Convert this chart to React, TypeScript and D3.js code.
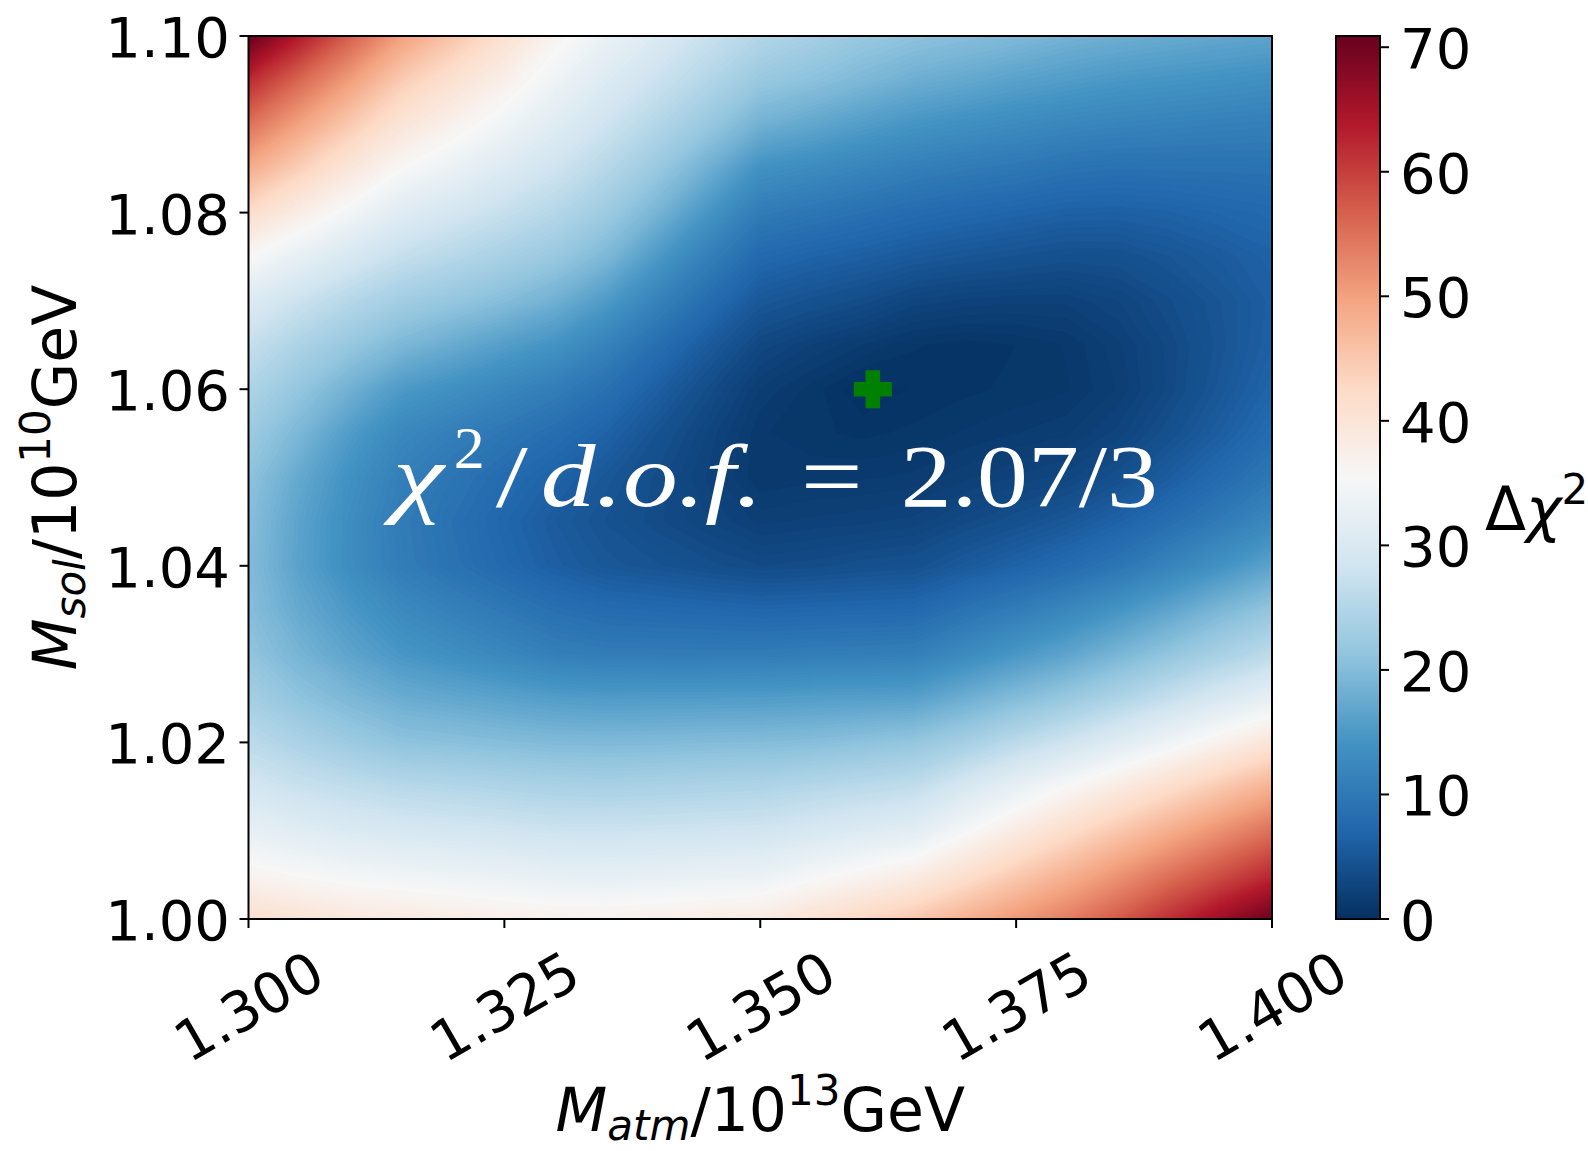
import { useMemo } from "react";
import * as d3 from "d3";

// M_atm / 10^13 GeV (columns)
const mAtm = [
  1.3, 1.305, 1.31, 1.315, 1.32, 1.325, 1.33, 1.335, 1.34, 1.345, 1.35,
  1.355, 1.36, 1.365, 1.37, 1.375, 1.38, 1.385, 1.39, 1.395, 1.4,
];
// M_sol / 10^10 GeV (rows, top of the plot first)
const mSol = [
  1.1, 1.095, 1.09, 1.085, 1.08, 1.075, 1.07, 1.065, 1.06, 1.055, 1.05,
  1.045, 1.04, 1.035, 1.03, 1.025, 1.02, 1.015, 1.01, 1.005, 1.0,
];
// delta chi^2: one row per mSol, one entry per mAtm
const dchi2 = [
  [70.9, 63.6, 56.6, 50, 45.5, 41.0, 36.5, 33.0, 30.3, 27.4, 25, 23.5, 22, 21, 20.3, 19.6, 18.6, 18.0, 17.5, 17.0, 16.6],
  [62, 55.9, 50.2, 44.5, 40.9, 37.4, 33.8, 30.6, 27.7, 24.9, 22, 20.8, 19.4, 18.0, 17.2, 16.2, 15.5, 14.8, 14.4, 14.0, 13.5],
  [55, 49.7, 44.7, 40, 37.0, 34.1, 31.1, 28.1, 25.0, 21.9, 18.4, 17.0, 15.6, 14.4, 13.6, 12.9, 12.2, 11.8, 11.5, 11.2, 11.0],
  [48.5, 43.9, 39.5, 35.5, 33.1, 30.6, 28.2, 25.3, 22.0, 18.1, 13.9, 12.9, 11.9, 11.0, 10.3, 9.8, 9.1, 8.8, 8.9, 8.9, 9.0],
  [42, 38, 34.4, 31, 29.1, 27.1, 25.2, 22.5, 18.8, 14.4, 10.4, 9.6, 8.8, 8.0, 7.4, 6.9, 6.4, 6.3, 6.6, 7.1, 7.5],
  [35.5, 32.4, 29.5, 27, 25.3, 23.7, 22.0, 19.3, 15.0, 11.0, 7.5, 6.7, 6.1, 5.4, 4.9, 4.5, 4.1, 4.2, 4.9, 5.7, 6.5],
  [30.5, 27.7, 25.2, 23, 21.6, 20.1, 18.2, 15.2, 11.5, 8.1, 5.2, 4.4, 3.7, 2.7, 2.35, 2.2, 2.2, 2.8, 3.8, 4.9, 6.1],
  [27, 24.2, 21.7, 19.3, 17.5, 15.7, 14.1, 11.5, 8.4, 5.5, 3.1, 2.1, 1.4, 0.75, 0.5, 0.7, 1.1, 2.0, 3.3, 4.75, 6.3],
  [24.5, 21.5, 18.2, 15.1, 13.6, 12.1, 10.7, 8.7, 6.1, 3.7, 1.7, 0.9, 0, 0.4, 0.6, 0.8, 1.0, 1.8, 3.3, 5.1, 6.9],
  [22.5, 19.2, 15.3, 12.3, 10.9, 9.6, 8.2, 6.6, 4.5, 2.7, 1.1, 0.8, 0.6, 0.8, 1.1, 1.4, 1.7, 2.6, 4.2, 6.0, 8.0],
  [21, 17.2, 13.7, 11.0, 9.4, 7.9, 6.55, 5.1, 3.7, 2.35, 1.1, 1.3, 1.35, 1.5, 2.0, 2.5, 3.0, 4.15, 5.9, 7.8, 9.9],
  [20.3, 16.4, 13.1, 10.4, 8.7, 7.1, 5.6, 4.5, 3.6, 2.8, 2.0, 2.2, 2.35, 2.6, 3.4, 4.2, 5.2, 6.55, 8.4, 10.4, 12.55],
  [20, 16.2, 13.1, 10.6, 9.0, 7.5, 6.1, 5.1, 4.6, 4.0, 3.5, 3.7, 4.1, 4.3, 5.45, 6.6, 7.9, 9.55, 11.75, 14.0, 16.5],
  [20.3, 17.3, 14.8, 12.6, 11.2, 9.9, 8.6, 7.9, 7.6, 7.35, 7.05, 7.25, 7.35, 7.5, 9.1, 10.6, 12.3, 14.35, 16.7, 19.3, 21.5],
  [21.3, 18.8, 16.5, 14.6, 13.4, 12.2, 11.0, 10.5, 10.5, 10.5, 10.5, 10.7, 10.8, 11.0, 12.8, 14.7, 16.6, 19.0, 21.4, 23.7, 26],
  [23.3, 21.1, 19.3, 17.7, 17.0, 16.3, 15.6, 15.3, 15.4, 15.4, 15.5, 15.7, 15.8, 16, 18.0, 20.0, 22.0, 24.4, 27.1, 29.8, 32.5],
  [26, 24.1, 22.4, 21, 20.6, 20.1, 19.7, 19.6, 19.7, 19.9, 20, 20.3, 20.9, 21.6, 23.4, 25.9, 28.3, 31.0, 34.0, 37.0, 40],
  [29, 27.5, 26.4, 25.5, 25.0, 24.5, 24.0, 23.8, 24.0, 24.3, 24.5, 25.2, 25.8, 26.5, 29.5, 32.5, 35.5, 38.6, 41.7, 44.9, 48],
  [32.5, 31.2, 30.2, 29.5, 29.0, 28.5, 28.0, 27.9, 28.1, 28.3, 28.5, 29.5, 30.5, 31.5, 34.9, 38.4, 41.8, 45.1, 48.4, 51.7, 55],
  [36.5, 35.4, 34.5, 34, 33.4, 32.9, 32.3, 32.1, 32.4, 32.7, 33, 34.7, 36.3, 38, 41.3, 44.6, 47.9, 51.3, 54.9, 58.4, 62],
  [41.5, 40.3, 39.3, 38.7, 38.2, 37.6, 37.1, 37.0, 37.5, 38.0, 38.5, 40.7, 42.8, 45, 47.9, 50.7, 53.6, 57.2, 61.5, 65.9, 70.2],
];

const xTicks = [1.3, 1.325, 1.35, 1.375, 1.4];
const yTicks = [1.0, 1.02, 1.04, 1.06, 1.08, 1.1];
const cbTicks = [0, 10, 20, 30, 40, 50, 60, 70];
const bestFit = { mAtm: 1.361, mSol: 1.06 };

// matplotlib RdBu_r
const rdbuR = [
  "#053061", "#2166ac", "#4393c3", "#92c5de", "#d1e5f0", "#f7f7f7",
  "#fddbc7", "#f4a582", "#d6604d", "#b2182b", "#67001f",
];

const W = 1588;
const H = 1151;
const left = 248.5, right = 1272, top = 36, bottom = 919;
const cbLeft = 1336, cbRight = 1380;
const font = "'DejaVu Sans', sans-serif";
const serif = "'Liberation Serif', 'DejaVu Serif', serif";

export default function App() {
  const x = d3.scaleLinear().domain([1.3, 1.4]).range([left, right]);
  const y = d3.scaleLinear().domain([1.0, 1.1]).range([bottom, top]);

  const flat = dchi2.flat();
  const vmin = d3.min(flat) as number;
  const vmax = d3.max(flat) as number;
  const color = d3
    .scaleLinear<string>()
    .domain(rdbuR.map((_, i) => vmin + (i / 10) * (vmax - vmin)))
    .range(rdbuR)
    .interpolate(d3.interpolateRgb)
    .clamp(true);
  const cb = d3.scaleLinear().domain([vmin, vmax]).range([bottom, top]);

  const layers = useMemo(() => {
    const nx = mAtm.length;
    const ny = mSol.length;
    const dx = mAtm[1] - mAtm[0];
    const dy = mSol[1] - mSol[0];
    const step = 0.35;
    const thresholds = d3.range(Math.floor(vmin), vmax, step);
    const cs = d3.contours().size([nx, ny]).thresholds(thresholds)(flat);
    const proj = d3.geoTransform({
      point: function (px: number, py: number) {
        this.stream.point(x(mAtm[0] + (px - 0.5) * dx), y(mSol[0] + (py - 0.5) * dy));
      },
    });
    const path = d3.geoPath(proj);
    return cs.map((c) => ({ d: path(c as any) || "", fill: color(c.value + step / 2) }));
  }, []);

  const bx = x(bestFit.mAtm);
  const by = y(bestFit.mSol);
  const s = 19, a = 7.3;
  const plus = `M${bx - a},${by - s}H${bx + a}V${by - a}H${bx + s}V${by + a}H${bx + a}V${by + s}H${bx - a}V${by + a}H${bx - s}V${by - a}H${bx - a}Z`;

  // annotation pieces, laid out like the LaTeX original
  const ax = x(1.3141);
  const ay = y(1.0468);
  const fs = 88;

  return (
    <svg width={W} height={H} style={{ position: "absolute", left: 0, top: 0, background: "white" }} fontFamily={font}>
      <defs>
        <clipPath id="plotClip">
          <rect x={left} y={top} width={right - left} height={bottom - top} />
        </clipPath>
        <linearGradient id="cbGrad" x1="0" y1="1" x2="0" y2="0">
          {rdbuR.map((c, i) => (
            <stop key={i} offset={i / 10} stopColor={c} />
          ))}
        </linearGradient>
      </defs>

      <g clipPath="url(#plotClip)">
        <rect x={left} y={top} width={right - left} height={bottom - top} fill={color(vmin)} />
        {layers.map((l, i) => (
          <path key={i} d={l.d} fill={l.fill} stroke={l.fill} strokeWidth={0.4} />
        ))}
      </g>

      <path d={plus} fill="#008000" />

      <g fill="white" fontFamily={serif} fontSize={fs}>
        <text x={ax} y={ay} fontStyle="italic" textLength={51} lengthAdjust="spacingAndGlyphs">χ</text>
        <text x={ax + 61} y={ay - 38} fontSize={60} textLength={31} lengthAdjust="spacingAndGlyphs">2</text>
        <text x={ax + 103} y={ay} textLength={32} lengthAdjust="spacingAndGlyphs">/</text>
        <text x={ax + 148} y={ay} fontStyle="italic" textLength={222} lengthAdjust="spacingAndGlyphs">d.o.f.</text>
        <text x={ax + 408} y={ay} textLength={62} lengthAdjust="spacingAndGlyphs">=</text>
        <text x={ax + 508} y={ay} textLength={257} lengthAdjust="spacingAndGlyphs">2.07/3</text>
      </g>

      <rect x={left} y={top} width={right - left} height={bottom - top} fill="none" stroke="black" strokeWidth={2} />

      {yTicks.map((t) => (
        <g key={t}>
          <line x1={left - 9} x2={left} y1={y(t)} y2={y(t)} stroke="black" strokeWidth={2} />
          <text x={230} y={y(t) + 21} textAnchor="end" fontSize={56}>
            {t.toFixed(2)}
          </text>
        </g>
      ))}
      {xTicks.map((t) => (
        <g key={t}>
          <line x1={x(t)} x2={x(t)} y1={bottom} y2={bottom + 9} stroke="black" strokeWidth={2} />
          <text transform={`translate(${x(t)},1006) rotate(-30)`} textAnchor="middle" dy="0.36em" fontSize={56}>
            {t.toFixed(3)}
          </text>
        </g>
      ))}

      <text x={(left + right) / 2} y={1131} textAnchor="middle" fontSize={60}>
        <tspan fontStyle="italic">M</tspan>
        <tspan fontStyle="italic" fontSize={42} dy={9}>atm</tspan>
        <tspan dy={-9}>/10</tspan>
        <tspan fontSize={42} dy={-26}>13</tspan>
        <tspan dy={26}>GeV</tspan>
      </text>
      <text transform={`translate(76,${(top + bottom) / 2}) rotate(-90)`} textAnchor="middle" fontSize={60}>
        <tspan fontStyle="italic">M</tspan>
        <tspan fontStyle="italic" fontSize={42} dy={9}>sol</tspan>
        <tspan dy={-9}>/10</tspan>
        <tspan fontSize={42} dy={-26}>10</tspan>
        <tspan dy={26}>GeV</tspan>
      </text>

      <rect x={cbLeft} y={top} width={cbRight - cbLeft} height={bottom - top} fill="url(#cbGrad)" stroke="black" strokeWidth={2} />
      {cbTicks.map((t) => (
        <g key={t}>
          <line x1={cbRight} x2={cbRight + 9} y1={cb(t)} y2={cb(t)} stroke="black" strokeWidth={2} />
          <text x={1400} y={cb(t) + 21} fontSize={56}>
            {t}
          </text>
        </g>
      ))}
      <text x={1485} y={530} fontSize={60}>
        <tspan>Δ</tspan>
        <tspan fontStyle="italic">χ</tspan>
        <tspan fontSize={42} dy={-26}>2</tspan>
      </text>
    </svg>
  );
}
